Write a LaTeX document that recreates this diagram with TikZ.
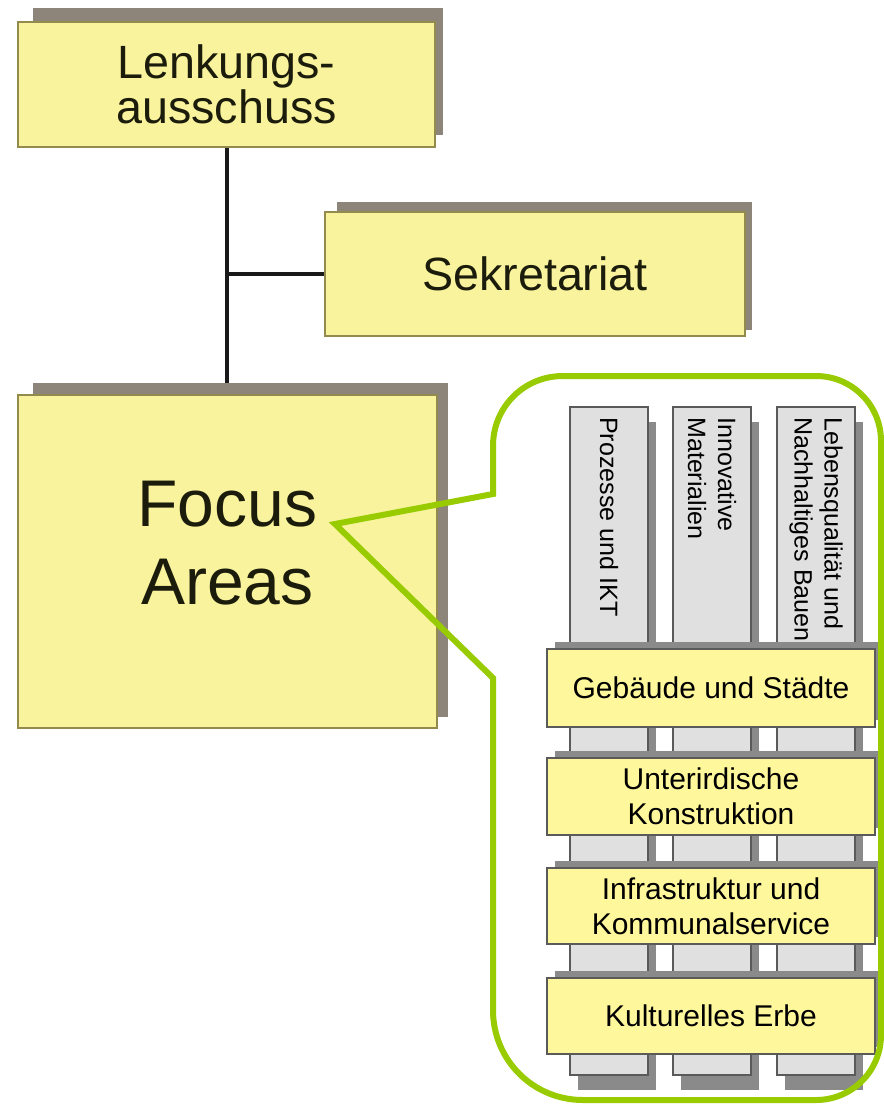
\documentclass[tikz,border=0pt]{standalone}
\usepackage{fontspec}
\setmainfont{Liberation Sans}
\definecolor{boxyellow}{HTML}{F8F39C}
\definecolor{baryellow}{HTML}{FFF79B}
\definecolor{boxedge}{HTML}{938A4E}
\definecolor{boxshadow}{HTML}{8E857A}
\definecolor{colgray}{HTML}{E0E0E0}
\definecolor{coledge}{HTML}{5A5A5A}
\definecolor{colshadow}{HTML}{8A8A8A}
\definecolor{callout}{HTML}{99CC00}
\definecolor{txt}{HTML}{1C1C0C}
\tikzset{
  topbox/.style={draw=boxedge, line width=0.8pt, fill=boxyellow, inner sep=0pt, align=center, text=txt},
  bigfont/.style={font=\fontsize{35}{34}\selectfont},
  focusfont/.style={font=\fontsize{49.5}{58}\selectfont},
  conn/.style={draw=black!90, line width=3pt},
  colbox/.style={draw=coledge, line width=1pt, fill=colgray, inner sep=0pt, minimum width=58.5pt, minimum height=501pt},
  collabel/.style={rotate=-90, anchor=west, inner sep=0pt, align=left, text=black, font=\fontsize{18.8}{22.5}\selectfont},
  barbox/.style={draw=coledge, line width=0.8pt, fill=baryellow, inner sep=0pt, align=center, text=black, minimum width=246pt, font=\fontsize{22.5}{26}\selectfont},
  callline/.style={draw=callout, line width=4.5pt, line join=miter}
}
\begin{document}
\begin{tikzpicture}[x=0.75pt,y=-0.75pt]
\useasboundingbox[fill=white] (0,0) rectangle (884,1104);

% top boxes
\fill[boxshadow] (33,8) rectangle (443,135);
\node[topbox, bigfont, minimum width=312.75pt, minimum height=93.75pt] (lenk) at (226.5,84.5) {Lenkungs-\\ausschuss};
\fill[boxshadow] (337,202) rectangle (752,330);
\node[topbox, bigfont, minimum width=315pt, minimum height=93pt] (sek) at (535,274) {Sekretariat};

% connectors
\coordinate (j) at (lenk.south |- sek.west);
\draw[conn] (lenk.south) -- (lenk.south |- 0,383);
\draw[conn] (j) -- (sek.west);

\fill[boxshadow] (33,383) rectangle (448,717);
\node[topbox, focusfont, minimum width=314.25pt, minimum height=249.75pt] (focus) at (227.5,561.5) {\raisebox{8.6pt}[\height][\depth]{\begin{tabular}{@{}c@{}}Focus\\Areas\end{tabular}}};

% columns
\foreach \x/\n in {609/c1, 712/c2, 816/c3} {
  \fill[colshadow] (\x-31,422) rectangle (\x+47,1090);
  \node[colbox] (\n) at (\x,741) {};
}
\node[collabel] (l1) at (c1.north |- 0,417) {Prozesse und IKT};
\node[collabel] (l2) at (c2.north |- 0,417) {Innovative\\Materialien};
\node[collabel] (l3) at (c3.north |- 0,417) {Lebensqualität und\\Nachhaltiges Bauen};

% bars
\foreach \y/\h/\n/\t in {688/58.5/b1/{Gebäude und Städte}, 796.5/57.75/b2/{Unterirdische\\Konstruktion}, 906/57/b3/{Infrastruktur und\\Kommunalservice}, 1016/57/b4/{Kulturelles Erbe}} {
  \fill[colshadow] (555,\y-7-\h/1.5) rectangle (883,\y-7+\h/1.5);
  \node[barbox, minimum height=\h pt] (\n) at (711,\y) {\t};
}

% callout
\draw[callline] (335,524) -- (493,494) -- (493,446)
  .. controls (493,407) and (524,376) .. (563,376) -- (816,376)
  .. controls (852,376) and (881,405) .. (881,441) -- (881,1035)
  .. controls (881,1071) and (852,1100) .. (816,1100) -- (583,1100)
  .. controls (533,1100) and (493,1060) .. (493,1010) -- (493,678) -- cycle;
\end{tikzpicture}
\end{document}
